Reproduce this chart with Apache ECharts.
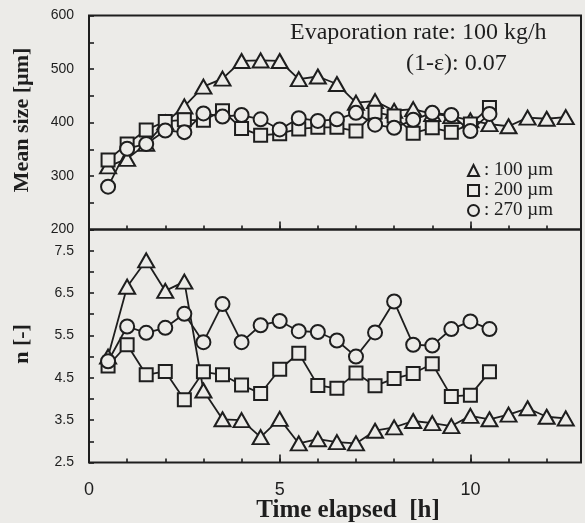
<!DOCTYPE html>
<html>
<head>
<meta charset="utf-8">
<script src="https://cdn.jsdelivr.net/npm/echarts@6/dist/echarts.min.js"></script>
<style>
html,body{margin:0;padding:0;background:#ecebe8;}
#chart{width:585px;height:523px;}
</style>
</head>
<body>
<div id="chart"></div>
<script>
// ---- data ----
const seriesNames = ['100 µm', '200 µm', '270 µm'];
const time100 = [0.5, 1, 1.5, 2, 2.5, 3, 3.5, 4, 4.5, 5, 5.5, 6, 6.5, 7, 7.5, 8, 8.5, 9, 9.5, 10, 10.5, 11, 11.5, 12, 12.5];
const time200 = [0.5, 1, 1.5, 2, 2.5, 3, 3.5, 4, 4.5, 5, 5.5, 6, 6.5, 7, 7.5, 8, 8.5, 9, 9.5, 10, 10.5];
const time270 = [0.5, 1, 1.5, 2, 2.5, 3, 3.5, 4, 4.5, 5, 5.5, 6, 6.5, 7, 7.5, 8, 8.5, 9, 9.5, 10, 10.5];

// Mean size [µm]
const size100 = [318, 332, 360, 400, 430, 467, 482, 515, 516, 515, 481, 486, 472, 437, 440, 422, 425, 416, 412, 404, 397, 393, 409, 407, 410];
const size200 = [330, 360, 386, 402, 405, 404, 422, 389, 376, 379, 388, 391, 391, 384, 419, 412, 380, 390, 382, 397, 428];
const size270 = [280, 351, 360, 385, 382, 417, 411, 414, 406, 387, 408, 403, 406, 418, 396, 390, 405, 418, 414, 384, 416];

// n [-]
const n100 = [5.0, 6.65, 7.27, 6.55, 6.77, 4.2, 3.52, 3.5, 3.1, 3.53, 2.95, 3.05, 2.98, 2.95, 3.25, 3.33, 3.48, 3.43, 3.36, 3.6, 3.52, 3.63, 3.78, 3.58, 3.54];
const n200 = [4.78, 5.28, 4.57, 4.65, 3.98, 4.64, 4.57, 4.33, 4.13, 4.7, 5.08, 4.32, 4.25, 4.61, 4.31, 4.48, 4.6, 4.83, 4.06, 4.09, 4.64];
const n270 = [4.89, 5.71, 5.56, 5.68, 6.01, 5.34, 6.24, 5.34, 5.74, 5.84, 5.6, 5.58, 5.38, 5.0, 5.57, 6.3, 5.28, 5.26, 5.65, 5.83, 5.65];

// tick labels
const sizeTickLabels = [200, 300, 400, 500, 600];
const nTickLabels = [2.5, 3.5, 4.5, 5.5, 6.5, 7.5];
const timeTickLabels = [0, 5, 10];

// ---- styling ----
const BG = '#ecebe8';
const INK = '#1e1e1e';
const symbols = ['triangle', 'rect', 'circle'];
const symbolSizes = [[16, 14], 13, 14];

const pair = (xs, ys) => xs.map((x, i) => [x, ys[i]]);
const near = (v, list) => list.some(t => Math.abs(t - v) < 1e-6);

const chart = echarts.init(document.getElementById('chart'));

const grids = [
  {left: 89, top: 15.5, width: 492, height: 214},
  {left: 89, top: 229.5, width: 492, height: 233}
];

function xAxisPair(gridIndex, showLabels) {
  return [
    {
      type: 'value', gridIndex, position: 'bottom', min: 0, max: 12.9, interval: 1,
      axisLine: {show: false, onZero: false}, splitLine: {show: false},
      axisTick: {show: true, inside: true, length: 4, lineStyle: {color: INK, width: 1.6}},
      axisLabel: {show: false}
    },
    {
      type: 'value', gridIndex, position: 'bottom', min: 0, max: 12.9, interval: 5,
      axisLine: {show: false, onZero: false}, splitLine: {show: false},
      axisTick: {show: true, inside: true, length: 8, lineStyle: {color: INK, width: 1.6}},
      axisLabel: {
        show: showLabels, margin: 19, color: INK, fontSize: 18,
        fontFamily: 'Liberation Sans',
        formatter: v => near(v, timeTickLabels) ? String(v) : ''
      }
    }
  ];
}

const option = {
  backgroundColor: BG,
  animation: false,
  grid: grids.map(g => Object.assign({show: true, borderColor: INK, borderWidth: 2, backgroundColor: 'transparent'}, g)),
  xAxis: [...xAxisPair(0, false), ...xAxisPair(1, true)],
  yAxis: [
    {
      type: 'value', gridIndex: 0, position: 'left', min: 200, max: 600, interval: 50,
      axisLine: {show: false, onZero: false}, splitLine: {show: false},
      axisTick: {show: true, inside: true, length: 5, lineStyle: {color: INK, width: 1.6}},
      axisLabel: {
        margin: 15, color: INK, fontSize: 14, fontFamily: 'Liberation Sans',
        formatter: v => near(v, sizeTickLabels) ? String(v) : ''
      }
    },
    {
      type: 'value', gridIndex: 1, position: 'left', min: 2.5, max: 8, interval: 0.5,
      axisLine: {show: false, onZero: false}, splitLine: {show: false},
      axisTick: {show: true, inside: true, length: 5, lineStyle: {color: INK, width: 1.6}},
      axisLabel: {
        margin: 15, color: INK, fontSize: 14, fontFamily: 'Liberation Sans',
        formatter: v => near(v, nTickLabels) ? v.toFixed(1) : ''
      }
    }
  ],
  legend: {
    orient: 'vertical', left: 462, top: 156,
    itemWidth: 11, itemHeight: 11, itemGap: 1,
    selectedMode: false,
    textStyle: {fontFamily: 'Liberation Serif', fontSize: 19, color: INK, lineHeight: 17},
    formatter: name => ': ' + name,
    itemStyle: {color: BG, borderColor: INK, borderWidth: 2},
    data: seriesNames.map((n, i) => ({name: n, icon: symbols[i]}))
  },
  series: [],
  graphic: [
    {type: 'text', x: 290, y: 33, style: {text: 'Evaporation rate: 100 kg/h', fontFamily: 'Liberation Serif', fontSize: 24, fill: INK, align: 'left', verticalAlign: 'middle'}},
    {type: 'text', x: 406, y: 64, style: {text: '(1-ε): 0.07', fontFamily: 'Liberation Serif', fontSize: 24, fill: INK, align: 'left', verticalAlign: 'middle'}},
    {type: 'text', x: 22, y: 120, rotation: Math.PI / 2, style: {text: 'Mean size [µm]', fontFamily: 'Liberation Serif', fontWeight: 'bold', fontSize: 22, fill: INK, align: 'center', verticalAlign: 'middle'}},
    {type: 'text', x: 22, y: 344, rotation: Math.PI / 2, style: {text: 'n [-]', fontFamily: 'Liberation Serif', fontWeight: 'bold', fontSize: 22, fill: INK, align: 'center', verticalAlign: 'middle'}},
    {type: 'text', x: 348, y: 511, style: {text: 'Time elapsed  [h]', fontFamily: 'Liberation Serif', fontWeight: 'bold', fontSize: 25, fill: INK, align: 'center', verticalAlign: 'middle'}}
  ]
};

const panels = [
  {xIdx: 1, yIdx: 0, sets: [pair(time100, size100), pair(time200, size200), pair(time270, size270)]},
  {xIdx: 3, yIdx: 1, sets: [pair(time100, n100), pair(time200, n200), pair(time270, n270)]}
];
panels.forEach(p => {
  p.sets.forEach((d, i) => {
    option.series.push({
      type: 'line', name: seriesNames[i], xAxisIndex: p.xIdx, yAxisIndex: p.yIdx,
      data: d, symbol: symbols[i], symbolSize: symbolSizes[i], showSymbol: true,
      lineStyle: {color: INK, width: 1.8},
      itemStyle: {color: BG, borderColor: INK, borderWidth: 2},
      emphasis: {disabled: true}, silent: true
    });
  });
});

chart.setOption(option);
</script>
</body>
</html>
